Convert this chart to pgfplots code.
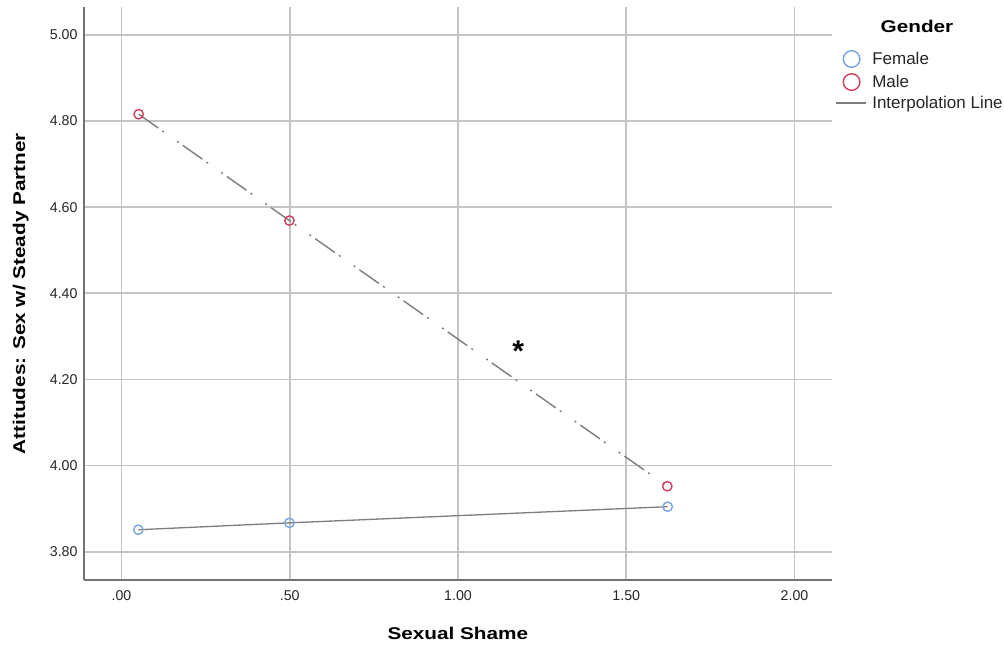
\documentclass[border=0pt]{standalone}
\usepackage{fontspec}
\setmainfont{Liberation Sans}
\newfontfamily\labfont{Liberation Sans Bold}[FakeStretch=1.22]
\usepackage{pgfplots}
\pgfplotsset{compat=1.18}
\definecolor{fem}{RGB}{120,164,227}
\definecolor{mal}{RGB}{210,63,92}
\definecolor{lgray}{RGB}{125,125,125}
\definecolor{gridc}{RGB}{196,196,196}
\definecolor{axl}{RGB}{115,115,115}
\begin{document}
\begin{tikzpicture}
\useasboundingbox (0,0) rectangle (1004pt,647pt);
\begin{axis}[
  at={(84pt,66.7pt)}, anchor=south west,
  scale only axis, width=747.7pt, height=573.3pt,
  xmin=-0.1114, xmax=2.1105, ymin=3.7336, ymax=5.065,
  axis lines=left, axis line style={-, draw=axl, line width=2pt},
  xtick={0,0.5,1,1.5,2}, xticklabels={.00,.50,1.00,1.50,2.00},
  ytick={3.8,4.0,4.2,4.4,4.6,4.8,5.0},
  yticklabels={3.80,4.00,4.20,4.40,4.60,4.80,5.00},
  grid=major, major grid style={draw=gridc, line width=1.7pt},
  major tick length=0pt,
  tick label style={font=\fontsize{14.2}{16}\selectfont, text=black!85},
  xticklabel style={anchor=north, inner sep=0pt, yshift=-10.4pt},
  yticklabel style={anchor=east, inner sep=0pt, xshift=-6.3pt},
  xlabel={Sexual Shame}, ylabel={Attitudes: Sex w/ Steady Partner},
  label style={font=\labfont\fontsize{17}{20}\selectfont, text=black},
  xlabel style={at={(axis description cs:0.5,-0.1041)}, anchor=base},
  ylabel style={at={(axis description cs:-0.0789,0.5)}, anchor=base, rotate=0},
  legend style={at={(axis description cs:1.0044,0.9253)}, anchor=north west,
    draw=none, fill=none, inner sep=0pt, row sep=5.0pt, column sep=5.7pt,
    nodes={inner sep=0pt, font=\fontsize{17}{20}\selectfont, text=black!85}},
  legend cell align=left,
]
\addplot[draw=lgray, line width=1.3pt, mark=o, mark size=4.7pt,
  mark options={draw=fem, solid, line width=1.4pt}, forget plot]
  coordinates {(0.050,3.851) (0.499,3.867) (1.623,3.9045)};
\addplot[draw=lgray, line width=1.4pt,
  dash pattern=on 24pt off 5pt on 2pt off 16pt on 2pt off 5pt,
  mark=o, mark size=4.7pt,
  mark options={draw=mal, solid, line width=1.4pt}, forget plot]
  coordinates {(0.051,4.816) (0.499,4.569) (1.622,3.952)};
\addlegendimage{legend image code/.code={\draw[fem, line width=1.4pt] (15.7pt,0pt) circle[radius=8.3pt];}}
\addlegendentry{Female}
\addlegendimage{legend image code/.code={\draw[mal, line width=1.4pt] (15.7pt,0pt) circle[radius=8.3pt];}}
\addlegendentry{Male}
\addlegendimage{legend image code/.code={\draw[lgray, line width=1.4pt] (0pt,0pt) -- (30pt,0pt);}}
\addlegendentry{Interpolation Line}
\node[anchor=base, font=\fontsize{30}{32}\selectfont\bfseries] at (axis cs:1.179,4.241) {*};
\end{axis}
\node[anchor=base, font=\labfont\fontsize{17}{20}\selectfont] at (917pt,614pt) {Gender};
\end{tikzpicture}
\end{document}
